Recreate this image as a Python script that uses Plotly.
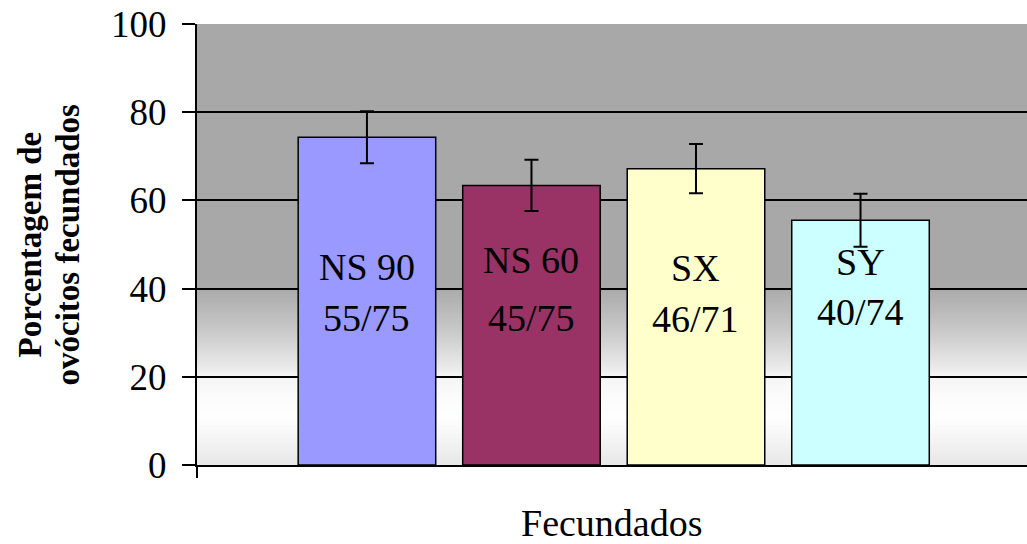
import plotly.graph_objects as go

# ---- data ----
categories = ["NS 90", "NS 60", "SX", "SY"]
values = [74.3, 63.4, 67.2, 55.5]
errors = [5.9, 5.8, 5.6, 6.0]
line1 = ["NS 90", "NS 60", "SX", "SY"]
line2 = ["55/75", "45/75", "46/71", "40/74"]
y_ticks = [0, 20, 40, 60, 80, 100]

# ---- styling ----
bar_colors = ["#9999FF", "#993366", "#FFFFCC", "#CCFFFF"]
label_y1 = [44.8, 46.4, 44.6, 46.0]
label_y2 = [33.3, 33.4, 33.1, 34.7]
SERIF = "Liberation Serif, Times New Roman, serif"

L, T, B = 197, 24, 79
W, H = 1027, 544
plot_w = W - L
plot_h = H - T - B

fig = go.Figure()
fig.add_trace(go.Bar(
    x=categories, y=values,
    marker=dict(color=bar_colors, line=dict(color="black", width=1.5)),
    error_y=dict(type="data", array=errors, visible=True, color="black",
                 thickness=2, width=7),
    showlegend=False, hoverinfo="skip",
))

# background gradient (plot area)
def bg_color(v):
    stops = [(0, 232), (4, 242), (10, 254), (14, 252), (20, 244), (21, 236), (30, 200), (40, 168), (100, 168)]
    for (a, ca), (b, cb) in zip(stops[:-1], stops[1:]):
        if a <= v <= b:
            c = ca + (cb - ca) * (v - a) / (b - a)
            c = int(round(c))
            return f"rgb({c},{c},{c})"
    return "rgb(168,168,168)"

shapes = []
shapes.append(dict(type="rect", xref="paper", yref="y", x0=0, x1=1, y0=0, y1=100,
                   fillcolor="rgb(168,168,168)", line=dict(width=0), layer="below"))
step = 0.5
v = 40.0 - step
while v >= -0.01:
    shapes.append(dict(type="rect", xref="paper", yref="y", x0=0, x1=1,
                       y0=max(v, 0), y1=v + step + 0.6, fillcolor=bg_color(v + step / 2),
                       line=dict(width=0), layer="below"))
    v -= step
# left category tick below the axis
shapes.append(dict(type="line", xref="paper", yref="paper", x0=0, x1=0,
                   y0=0, y1=-13 / plot_h, line=dict(color="black", width=2)))

annotations = []
for i, c in enumerate(categories):
    annotations.append(dict(x=c, y=label_y1[i], xref="x", yref="y", text=line1[i],
                            showarrow=False, font=dict(family=SERIF, size=38, color="black"),
                            xanchor="center", yanchor="middle"))
    annotations.append(dict(x=c, y=label_y2[i], xref="x", yref="y", text=line2[i],
                            showarrow=False, font=dict(family=SERIF, size=38, color="black"),
                            xanchor="center", yanchor="middle"))

# y-axis title, two lines
for txt, px in [("Porcentagem de", 29), ("ovócitos fecundados", 67)]:
    annotations.append(dict(x=(px - L) / plot_w, y=0.5, xref="paper", yref="paper",
                            text=f"<b>{txt}</b>", textangle=-90, showarrow=False,
                            font=dict(family=SERIF, size=33, color="black"),
                            xanchor="center", yanchor="middle"))
# x-axis title
annotations.append(dict(x=0.5, y=(465 - 523) / plot_h, xref="paper", yref="paper",
                        text="Fecundados", showarrow=False,
                        font=dict(family=SERIF, size=38, color="black"),
                        xanchor="center", yanchor="middle"))

fig.update_layout(
    width=W, height=H,
    margin=dict(l=L, r=0, t=T, b=B, pad=0),
    paper_bgcolor="white", plot_bgcolor="rgba(0,0,0,0)",
    bargap=0.164,
    shapes=shapes, annotations=annotations,
    xaxis=dict(type="category", range=[-1.033, 4.012], showticklabels=False,
               showgrid=False, zeroline=False, showline=True, linecolor="black",
               linewidth=2, ticks=""),
    yaxis=dict(range=[0, 100], tickvals=y_ticks, ticktext=[str(t) for t in y_ticks],
               showgrid=True, gridcolor="black", gridwidth=2, zeroline=False,
               showline=True, linecolor="black", linewidth=2,
               ticks="outside", ticklen=13, tickwidth=2, tickcolor="black",
               tickfont=dict(family=SERIF, size=37, color="black"),
               ticklabelstandoff=8),
)

fig.write_html("out.html", config={"displayModeBar": False},
               post_script="document.body.style.margin='0';document.body.style.overflow='hidden';")
